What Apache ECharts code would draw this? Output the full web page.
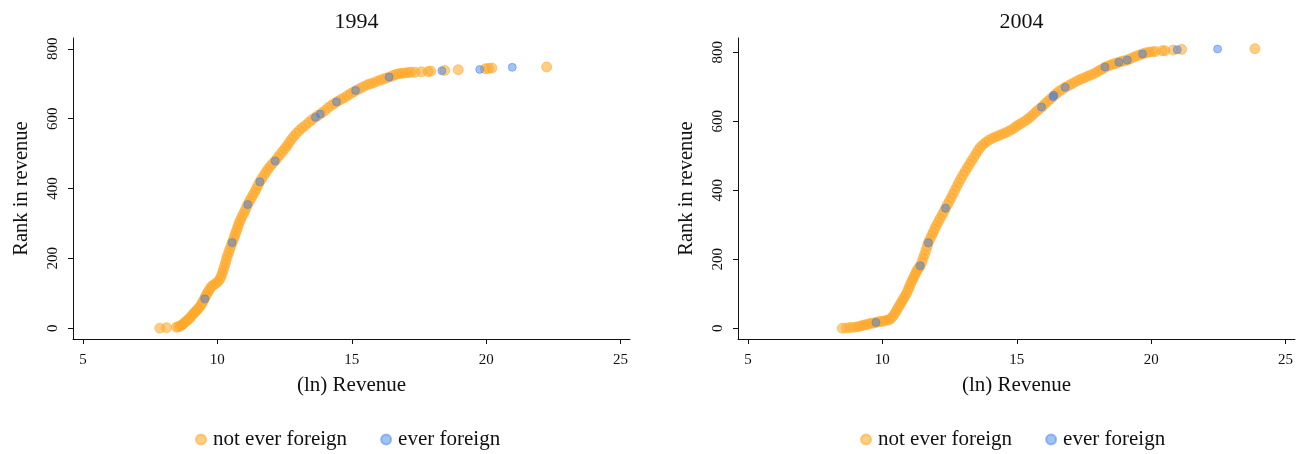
<!DOCTYPE html>
<html>
<head>
<meta charset="utf-8">
<script src="https://cdn.jsdelivr.net/npm/echarts@6/dist/echarts.min.js"></script>
<style>
  html, body { margin: 0; padding: 0; background: #fff; }
  #chart { width: 1306px; height: 454px; }
</style>
</head>
<body>
<div id="chart"></div>
<script>
// Panel titles and axis ticks
const years = ['1994', '2004'];
const xTicks = [5, 10, 15, 20, 25];
const yTicks = [0, 200, 400, 600, 800];
const seriesNames = ['not ever foreign', 'ever foreign'];

// 1994: [ln revenue, rank in revenue]
const notForeign1994 = [
  [7.86,0],[8.11,1],[8.48,3],[8.55,4],[8.62,6],[8.68,9],[8.74,13],[8.80,17],[8.86,21],[8.93,26],
  [9.00,31],[9.06,37],[9.12,42],[9.18,47],[9.24,52],[9.30,57],[9.36,63],[9.42,70],[9.47,77],[9.52,84],
  [9.56,91],[9.61,98],[9.66,105],[9.72,112],[9.78,119],[9.86,124],[9.94,128],[10.02,133],[10.09,140],[10.14,148],
  [10.18,157],[10.22,166],[10.26,176],[10.30,186],[10.33,196],[10.37,206],[10.42,216],[10.46,226],[10.51,236],[10.55,245],
  [10.60,254],[10.64,263],[10.68,272],[10.72,281],[10.76,290],[10.80,299],[10.85,308],[10.90,317],[10.96,326],[11.02,335],
  [11.07,344],[11.13,354],[11.19,363],[11.26,372],[11.32,381],[11.39,390],[11.45,399],[11.51,409],[11.58,419],[11.65,428],
  [11.73,437],[11.80,446],[11.88,455],[11.96,463],[12.05,471],[12.15,479],[12.24,488],[12.33,497],[12.42,506],[12.51,514],
  [12.59,522],[12.67,531],[12.75,540],[12.84,549],[12.94,558],[13.05,566],[13.16,574],[13.28,581],[13.40,589],[13.52,597],
  [13.65,604],[13.76,610],[13.88,616],[14.00,623],[14.12,631],[14.24,638],[14.36,644],[14.48,650],[14.60,655],[14.72,660],
  [14.84,666],[14.96,672],[15.08,677],[15.20,682],[15.32,687],[15.45,692],[15.58,697],[15.70,700],[15.82,703],[15.95,707],
  [16.08,711],[16.20,714],[16.32,717],[16.44,720],[16.55,724],[16.66,727],[16.77,729],[16.88,730],[17.00,731],[17.10,732],
  [17.20,733],[17.35,733],[17.59,734],[17.84,735],[17.94,736],[18.46,738],[18.96,740],[19.97,743],[20.09,744],[20.21,745],
  [22.25,748]
];
const everForeign1994 = [
  [9.53,84],[10.55,245],[11.13,354],[11.58,419],[12.15,479],[13.65,604],[13.83,613],
  [14.43,648],[15.14,681],[16.39,719],[18.35,737],[19.76,741],[20.97,747]
];

// 2004: [ln revenue, rank in revenue]
const notForeign2004 = [
  [8.51,0],[8.66,1],[8.80,2],[8.93,3],[9.06,4],[9.16,6],[9.26,8],[9.36,10],[9.46,12],[9.56,14],
  [9.66,15],[9.76,17],[9.86,19],[9.96,20],[10.06,21],[10.16,23],[10.26,25],[10.34,30],[10.41,37],[10.48,45],
  [10.54,53],[10.60,61],[10.66,69],[10.72,77],[10.78,85],[10.84,93],[10.90,101],[10.95,110],[11.00,119],[11.05,128],
  [11.10,137],[11.15,145],[11.20,153],[11.25,161],[11.30,169],[11.36,175],[11.41,181],[11.47,192],[11.52,203],[11.57,214],
  [11.62,226],[11.67,238],[11.71,248],[11.77,258],[11.83,268],[11.89,278],[11.95,288],[12.01,298],[12.08,308],[12.15,318],
  [12.22,328],[12.29,338],[12.35,348],[12.42,358],[12.49,368],[12.56,378],[12.63,389],[12.70,400],[12.77,411],[12.84,422],
  [12.92,433],[13.00,444],[13.08,455],[13.16,465],[13.24,475],[13.32,485],[13.40,495],[13.48,505],[13.56,515],[13.64,524],
  [13.74,532],[13.85,539],[13.96,545],[14.08,550],[14.20,554],[14.32,558],[14.44,562],[14.56,566],[14.68,570],[14.80,575],
  [14.92,581],[15.02,587],[15.12,592],[15.24,597],[15.36,603],[15.46,609],[15.56,616],[15.66,623],[15.76,630],[15.86,637],
  [15.96,643],[16.06,651],[16.16,658],[16.26,665],[16.36,672],[16.46,679],[16.56,686],[16.68,692],[16.80,698],[16.92,703],
  [17.04,708],[17.16,713],[17.28,718],[17.40,722],[17.52,726],[17.64,730],[17.76,734],[17.88,738],[18.00,743],[18.10,748],
  [18.20,752],[18.30,757],[18.40,760],[18.50,763],[18.60,766],[18.70,768],[18.80,771],[18.90,773],[19.00,775],[19.11,777],
  [19.22,781],[19.34,785],[19.46,789],[19.57,792],[19.68,795],[19.80,798],[19.92,800],[20.04,801],[20.15,802],[20.41,804],
  [20.51,804],[20.82,806],[21.13,808],[23.86,810]
];
const everForeign2004 = [
  [9.76,17],[11.41,181],[11.71,248],[12.35,348],[15.92,641],[16.35,671],[16.38,675],
  [16.80,698],[18.28,757],[18.80,771],[19.11,777],[19.68,795],[20.97,807],[22.47,809]
];

const notForeignByYear = [notForeign1994, notForeign2004];
const everForeignByYear = [everForeign1994, everForeign2004];

const FONT = "'Liberation Serif', 'DejaVu Serif', serif";
const ORANGE = 'rgba(255,168,40,0.7)';
const BLUE = 'rgba(60,128,235,0.6)';
const INK = '#111';

const panels = [
  { left: 73, yMin: -31, yMax: 831 },
  { left: 738, yMin: -31, yMax: 841 }
];
const GRID_W = 557, GRID_TOP = 38, GRID_H = 301;

const option = {
  animation: false,
  backgroundColor: '#fff',
  textStyle: { fontFamily: FONT, color: INK },
  title: panels.map((p, i) => ({
    text: years[i],
    left: p.left + GRID_W / 2,
    top: 6,
    textAlign: 'center',
    textStyle: { fontFamily: FONT, fontSize: 22, fontWeight: 'normal', color: INK }
  })),
  legend: panels.map((p, i) => ({
    data: seriesNames,
    left: p.left + 117,
    top: 424,
    icon: 'circle',
    itemWidth: 10,
    itemHeight: 10,
    itemGap: 33,
    selectedMode: false,
    textStyle: { fontFamily: FONT, fontSize: 21, color: INK, padding: [0, 0, 0, 2] }
  })),
  grid: panels.map(p => ({
    left: p.left, top: GRID_TOP, width: GRID_W, height: GRID_H, containLabel: false
  })),
  xAxis: panels.map((p, i) => ({
    type: 'value',
    gridIndex: i,
    min: 4.63,
    max: 25.35,
    name: '(ln) Revenue',
    nameLocation: 'middle',
    nameGap: 36,
    nameTextStyle: { fontFamily: FONT, fontSize: 21, color: INK },
    axisLine: { show: true, onZero: false, lineStyle: { color: INK, width: 1 } },
    axisTick: { show: true, length: 5, customValues: xTicks, lineStyle: { color: INK } },
    axisLabel: { customValues: xTicks, margin: 14, fontFamily: FONT, fontSize: 15, color: INK },
    splitLine: { show: false }
  })),
  yAxis: panels.map((p, i) => ({
    type: 'value',
    gridIndex: i,
    min: p.yMin,
    max: p.yMax,
    name: 'Rank in revenue',
    nameLocation: 'middle',
    nameRotate: 90,
    nameGap: 41,
    nameTextStyle: { fontFamily: FONT, fontSize: 20.5, color: INK },
    axisLine: { show: true, onZero: false, lineStyle: { color: INK, width: 1 } },
    axisTick: { show: true, length: 5, customValues: yTicks, lineStyle: { color: INK } },
    axisLabel: { customValues: yTicks, rotate: 90, margin: 12, fontFamily: FONT, fontSize: 15, color: INK },
    splitLine: { show: false }
  })),
  series: []
};

panels.forEach((p, i) => {
  option.series.push({
    name: seriesNames[0],
    type: 'scatter',
    xAxisIndex: i,
    yAxisIndex: i,
    symbolSize: 10,
    itemStyle: { color: ORANGE, borderColor: ORANGE, borderWidth: 1 },
    data: notForeignByYear[i]
  });
  option.series.push({
    name: seriesNames[1],
    type: 'scatter',
    xAxisIndex: i,
    yAxisIndex: i,
    symbolSize: 8,
    itemStyle: { color: BLUE, borderColor: BLUE, borderWidth: 1 },
    data: everForeignByYear[i]
  });
});

const chart = echarts.init(document.getElementById('chart'), null, { renderer: 'canvas' });
chart.setOption(option);
</script>
</body>
</html>
